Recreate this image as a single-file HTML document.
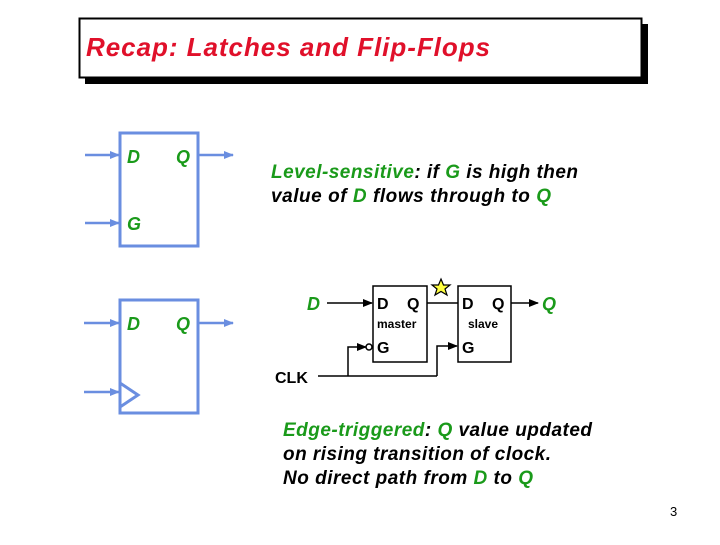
<!DOCTYPE html>
<html><head><style>
body{margin:0;background:#fff;}
svg text{font-family:"Liberation Sans",Arial,sans-serif;}
</style></head><body>
<svg width="720" height="540" viewBox="0 0 720 540" xmlns="http://www.w3.org/2000/svg">
<defs>
<marker id="ab" markerWidth="10" markerHeight="8" refX="9" refY="4" orient="auto" markerUnits="userSpaceOnUse"><path d="M0,0 L10,4 L0,8 Z" fill="#6a8ee0"/></marker>
<marker id="ak" markerWidth="10" markerHeight="8" refX="9" refY="4" orient="auto" markerUnits="userSpaceOnUse"><path d="M0,0 L10,4 L0,8 Z" fill="#000"/></marker>
</defs>
<rect x="85" y="24" width="563" height="60" fill="#000"/>
<rect x="79.5" y="18.5" width="562" height="59" fill="#fff" stroke="#000" stroke-width="2"/>
<text x="86" y="56" font-size="26" font-weight="bold" font-style="italic" fill="#e0102a" textLength="404" lengthAdjust="spacing">Recap: Latches and Flip-Flops</text>

<g stroke="#6a8ee0" stroke-width="3" fill="none">
<rect x="120" y="133" width="78" height="113"/>
<rect x="120" y="300" width="78" height="113"/>
<polyline points="120,383 138,395 120,407"/>
</g>
<g stroke="#6a8ee0" stroke-width="2.5">
<line x1="85" y1="155" x2="119" y2="155" marker-end="url(#ab)"/>
<line x1="85" y1="223" x2="119" y2="223" marker-end="url(#ab)"/>
<line x1="199" y1="155" x2="233" y2="155" marker-end="url(#ab)"/>
<line x1="84" y1="323" x2="119" y2="323" marker-end="url(#ab)"/>
<line x1="84" y1="392" x2="119" y2="392" marker-end="url(#ab)"/>
<line x1="199" y1="323" x2="233" y2="323" marker-end="url(#ab)"/>
</g>
<g font-size="18" font-weight="bold" font-style="italic" fill="#1a9a1a">
<text x="127" y="163">D</text><text x="176" y="163">Q</text>
<text x="127" y="230">G</text>
<text x="127" y="330">D</text><text x="176" y="330">Q</text>
</g>

<g font-size="19" font-weight="bold" font-style="italic" fill="#000">
<text x="271" y="178" textLength="307" lengthAdjust="spacing"><tspan fill="#1a9a1a">Level-sensitive</tspan>: if <tspan fill="#1a9a1a">G</tspan> is high then</text>
<text x="271" y="202" textLength="280" lengthAdjust="spacing">value of <tspan fill="#1a9a1a">D</tspan> flows through to <tspan fill="#1a9a1a">Q</tspan></text>
<text x="283" y="436" textLength="309" lengthAdjust="spacing"><tspan fill="#1a9a1a">Edge-triggered</tspan>: <tspan fill="#1a9a1a">Q</tspan> value updated</text>
<text x="283" y="460" textLength="268" lengthAdjust="spacing">on rising transition of clock.</text>
<text x="283" y="484" textLength="250" lengthAdjust="spacing">No direct path from <tspan fill="#1a9a1a">D</tspan> to <tspan fill="#1a9a1a">Q</tspan></text>
</g>

<g stroke="#000" stroke-width="1.5" fill="none">
<rect x="373" y="286" width="54" height="76"/>
<rect x="458" y="286" width="53" height="76"/>
<line x1="327" y1="303" x2="372" y2="303" marker-end="url(#ak)"/>
<line x1="427" y1="303" x2="458" y2="303"/>
<line x1="511" y1="303" x2="538" y2="303" marker-end="url(#ak)"/>
<polyline points="318,376 437,376"/>
<polyline points="348,376 348,347 366,347" marker-end="url(#ak)"/>
<circle cx="369" cy="347" r="3"/>
<polyline points="437,376 437,346 457,346" marker-end="url(#ak)"/>
</g>
<polygon points="441,279 443.5,285 450,285 445,289 447,295 441,291.5 435,295 437,289 432,285 438.5,285" fill="#ffff40" stroke="#000" stroke-width="1.2"/>
<g font-size="16" font-weight="bold" fill="#000">
<text x="377" y="309">D</text><text x="407" y="309">Q</text>
<text x="462" y="309">D</text><text x="492" y="309">Q</text>
<text x="377" y="353">G</text><text x="462" y="353">G</text>
<text x="275" y="383">CLK</text>
</g>
<g font-size="12" font-weight="bold" fill="#000">
<text x="377" y="328">master</text><text x="468" y="328">slave</text>
</g>
<g font-size="18" font-weight="bold" font-style="italic" fill="#1a9a1a">
<text x="307" y="310">D</text><text x="542" y="310">Q</text>
</g>
<text x="670" y="516" font-size="13" fill="#000">3</text>
</svg>
</body></html>
